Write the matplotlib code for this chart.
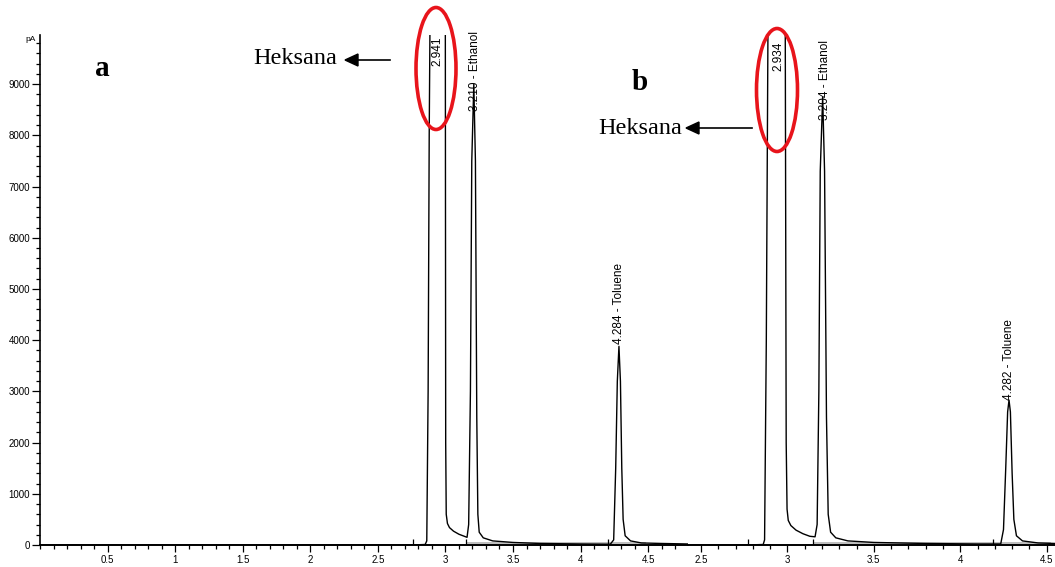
import numpy as np
import matplotlib.pyplot as plt
from matplotlib.patches import Ellipse
from matplotlib.ticker import MultipleLocator

# chromatogram a (time in min, signal in pA)
t_a = [0.0, 2.75, 2.85, 2.862, 2.872, 2.88, 2.888, 2.999, 3.002, 3.006, 3.015, 3.03, 3.06,
       3.10, 3.14, 3.16, 3.172, 3.185, 3.195, 3.21, 3.222, 3.232, 3.24, 3.25, 3.28, 3.35,
       3.5, 3.7, 4.0, 4.22, 4.245, 4.26, 4.272, 4.284, 4.295, 4.305, 4.315, 4.33, 4.37,
       4.45, 4.6, 4.795]
pA_a = [0, 0, 10, 80, 3000, 8000, 11000, 11000, 2000, 600, 420, 340, 270,
        210, 170, 150, 400, 3000, 7500, 9000, 7500, 2500, 600, 250, 140, 80,
        50, 30, 20, 15, 100, 1500, 3200, 3880, 3200, 1500, 500, 180, 80,
        40, 30, 20]

# chromatogram b
t_b = [2.425, 2.77, 2.86, 2.868, 2.878, 2.889, 2.987, 2.993, 2.998, 3.005, 3.02, 3.05,
       3.09, 3.13, 3.16, 3.172, 3.182, 3.19, 3.204, 3.215, 3.226, 3.236, 3.25, 3.28,
       3.35, 3.5, 3.8, 4.1, 4.234, 4.25, 4.263, 4.274, 4.282, 4.29, 4.3, 4.31, 4.325,
       4.36, 4.45, 4.548]
pA_b = [0, 0, 10, 100, 4000, 11000, 11000, 2000, 700, 480, 380, 290,
        220, 170, 160, 400, 3000, 7300, 8750, 7300, 2500, 600, 250, 140,
        80, 50, 30, 20, 20, 300, 1500, 2600, 2830, 2600, 1400, 500, 180,
        80, 40, 30]

# integration event marks
events_a = [2.76, 3.155, 4.20]
events_b = [2.77, 3.15, 4.19]

# peak labels: (time, y, text, vertical anchor)
labels_a = [(2.943, 9930, "2.941", "top"),
            (3.218, 8480, "3.210 - Ethanol", "bottom"),
            (4.288, 3930, "4.284 - Toluene", "bottom")]
labels_b = [(2.947, 9830, "2.934", "top"),
            (3.219, 8300, "3.204 - Ethanol", "bottom"),
            (4.282, 2840, "4.282 - Toluene", "bottom")]

W, H = 1055, 567
fig = plt.figure(figsize=(W / 100, H / 100), dpi=100)
plt.rcParams['font.family'] = ['Liberation Sans', 'DejaVu Sans']

bottom = (H - 545) / H
height = 510 / H
ax1 = fig.add_axes([40 / W, bottom, (688 - 40) / W, height])
ax2 = fig.add_axes([688 / W, bottom, (W - 688) / W, height])

ymax = 9960
for ax, t, y, lab, ev in [(ax1, t_a, pA_a, labels_a, events_a),
                          (ax2, t_b, pA_b, labels_b, events_b)]:
    ax.plot(t, y, color='black', lw=1.0)
    ax.vlines(ev, 0, 110, color='black', lw=0.9)
    ax.set_ylim(0, ymax)
    ax.spines['top'].set_visible(False)
    ax.spines['right'].set_visible(False)
    ax.spines['bottom'].set_linewidth(1.4)
    ax.xaxis.set_major_locator(MultipleLocator(0.5))
    ax.xaxis.set_minor_locator(MultipleLocator(0.1))
    ax.tick_params(axis='x', which='major', length=5, width=0.9, labelsize=7, pad=2)
    ax.tick_params(axis='x', which='minor', length=3, width=0.9)
    ax.xaxis.set_major_formatter(plt.FuncFormatter(lambda v, p: f"{v:g}"))
    for tx, ty, s, va in lab:
        ax.text(tx, ty, s, rotation=90, ha='center', va=va, fontsize=8.5, clip_on=False)

ax1.set_xlim(0, 4.795)
ax1.set_xticks([0.5, 1, 1.5, 2, 2.5, 3, 3.5, 4, 4.5])
ax1.spines['left'].set_linewidth(1.2)
ax1.yaxis.set_major_locator(MultipleLocator(1000))
ax1.yaxis.set_minor_locator(MultipleLocator(200))
ax1.tick_params(axis='y', which='major', length=6, width=0.9, labelsize=7, pad=1)
ax1.tick_params(axis='y', which='minor', length=3, width=0.9)
ax1.text(-0.03, 9880, "pA", fontsize=6, ha='right', va='center', clip_on=False)

ax2.set_xlim(2.425, 4.548)
ax2.set_xticks([2.5, 3, 3.5, 4, 4.5])
ax2.spines['left'].set_visible(False)
ax2.set_yticks([])

# integration baselines (light grey)
ax1.plot([3.16, 4.48], [30, 30], color='#b8b8b8', lw=1.3, zorder=1)
ax2.plot([3.16, 4.52], [30, 30], color='#b8b8b8', lw=1.3, zorder=1)

# annotations
fig.text(95 / W, 1 - 68 / H, "a", family='Liberation Serif', weight='bold', fontsize=21,
         ha='left', va='center')
fig.text(632 / W, 1 - 82 / H, "b", family='Liberation Serif', weight='bold', fontsize=21,
         ha='left', va='center')
fig.text(253 / W, 1 - 58 / H, "Heksana", family='Liberation Serif', fontsize=17.5,
         ha='left', va='center')
fig.text(598 / W, 1 - 128 / H, "Heksana", family='Liberation Serif', fontsize=17.5,
         ha='left', va='center')
fig.add_artist(plt.Line2D([350 / W, 390 / W], [1 - 60 / H, 1 - 60 / H], color='black', lw=1.2))
fig.add_artist(plt.Line2D([692 / W, 752 / W], [1 - 128 / H, 1 - 128 / H], color='black', lw=1.2))
fig.patches.append(plt.Polygon([[345 / W, 1 - 60 / H], [358 / W, 1 - 54 / H], [358 / W, 1 - 66 / H]],
                               closed=True, color='black', transform=fig.transFigure, figure=fig))
fig.patches.append(plt.Polygon([[686 / W, 1 - 128 / H], [699 / W, 1 - 122 / H], [699 / W, 1 - 134 / H]],
                               closed=True, color='black', transform=fig.transFigure, figure=fig))

for cx, cy, w, h in [(436, 68.5, 40, 122), (777, 90, 41, 123)]:
    fig.patches.append(Ellipse((cx / W, 1 - cy / H), w / W, h / H, fill=False, edgecolor='#e8141b',
                               lw=2.6, transform=fig.transFigure, figure=fig))

fig.savefig("out.png", dpi=100)
